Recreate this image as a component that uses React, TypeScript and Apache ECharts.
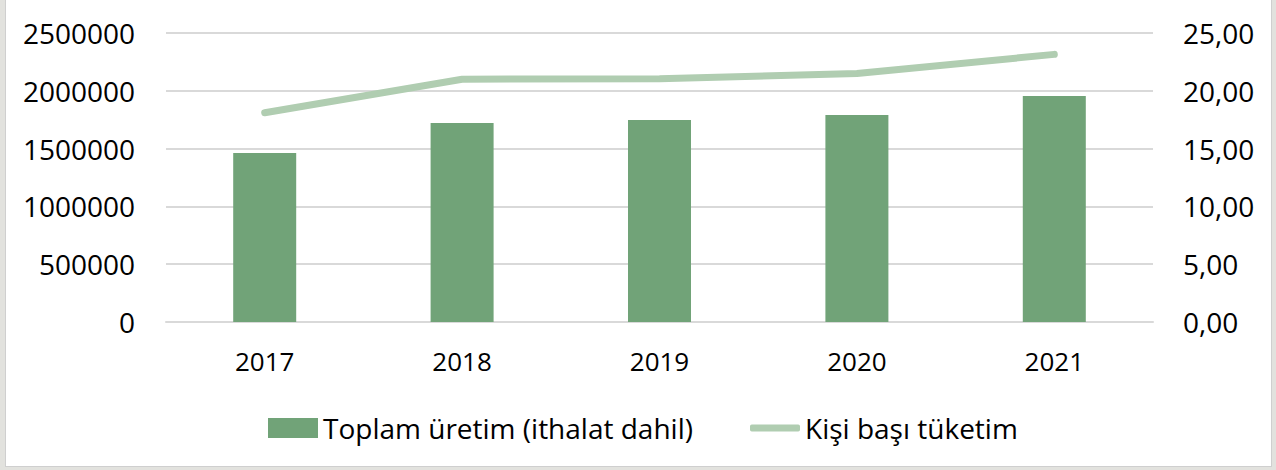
import React, { useEffect, useRef } from "react";
import * as echarts from "echarts";

const years = ["2017", "2018", "2019", "2020", "2021"];
const toplamUretim = [1462000, 1721000, 1747000, 1791000, 1955000];
const kisiBasiTuketim = [18.1, 21.0, 21.05, 21.5, 23.15];
const barName = "Toplam üretim (ithalat dahil)";
const lineName = "Kişi başı tüketim";

const FONT = "'Open Sans', sans-serif";
const BAR_COLOR = "#71a378";
const LINE_COLOR = "#b0cdb1";

export default function App() {
  const ref = useRef<HTMLDivElement>(null);
  useEffect(() => {
    if (!ref.current) return;
    const chart = echarts.init(ref.current, undefined, { renderer: "svg" });
    chart.setOption({
      animation: false,
      backgroundColor: "#ffffff",
      textStyle: { fontFamily: FONT },
      grid: { left: 160, right: 118, top: 33, bottom: 144, containLabel: false },
      legend: [
        {
          top: 409,
          left: 257,
          itemWidth: 50,
          itemHeight: 20,
          textStyle: { fontFamily: FONT, fontSize: 28, color: "#000000" },
          data: [{ name: barName, icon: "rect" }],
        },
        {
          top: 409,
          left: 739,
          itemWidth: 50,
          itemHeight: 7,
          textStyle: { fontFamily: FONT, fontSize: 28, color: "#000000" },
          data: [{ name: lineName, icon: "roundRect", itemStyle: { color: LINE_COLOR } }],
        },
      ],
      xAxis: {
        type: "category",
        data: years,
        axisLine: { lineStyle: { color: "#d9d9d9", width: 2 } },
        axisTick: { show: false },
        axisLabel: { fontFamily: FONT, fontSize: 26, color: "#000000", margin: 26 },
      },
      yAxis: [
        {
          type: "value",
          min: 0,
          max: 2500000,
          interval: 500000,
          axisLine: { show: false },
          axisTick: { show: false },
          splitLine: { lineStyle: { color: "#d9d9d9", width: 2 } },
          axisLabel: {
            fontFamily: FONT,
            fontSize: 28,
            color: "#000000",
            margin: 31,
            formatter: (v: number) => String(v),
          },
        },
        {
          type: "value",
          min: 0,
          max: 25,
          interval: 5,
          axisLine: { show: false },
          axisTick: { show: false },
          splitLine: { show: false },
          axisLabel: {
            fontFamily: FONT,
            fontSize: 28,
            color: "#000000",
            margin: 30,
            formatter: (v: number) => v.toFixed(2).replace(".", ","),
          },
        },
      ],
      series: [
        {
          name: barName,
          type: "bar",
          data: toplamUretim,
          barWidth: 63,
          itemStyle: { color: BAR_COLOR },
        },
        {
          name: lineName,
          type: "line",
          yAxisIndex: 1,
          data: kisiBasiTuketim,
          symbol: "none",
          lineStyle: { color: LINE_COLOR, width: 7, cap: "round", join: "round" },
          itemStyle: { color: LINE_COLOR },
        },
      ],
    });
    return () => chart.dispose();
  }, []);
  return (
    <div
      style={{
        position: "fixed",
        left: 0,
        top: 0,
        width: 1276,
        height: 470,
        background: "#e2e2de",
      }}
    >
      <div
        style={{
          position: "absolute",
          left: 5,
          top: 0,
          width: 1267,
          height: 467,
          boxSizing: "border-box",
          borderLeft: "1px solid #cfcfcf",
          borderRight: "1px solid #cfcfcf",
          borderBottom: "1px solid #cfcfcf",
          background: "#ffffff",
        }}
      >
        <div ref={ref} style={{ width: 1265, height: 466 }} />
      </div>
    </div>
  );
}
